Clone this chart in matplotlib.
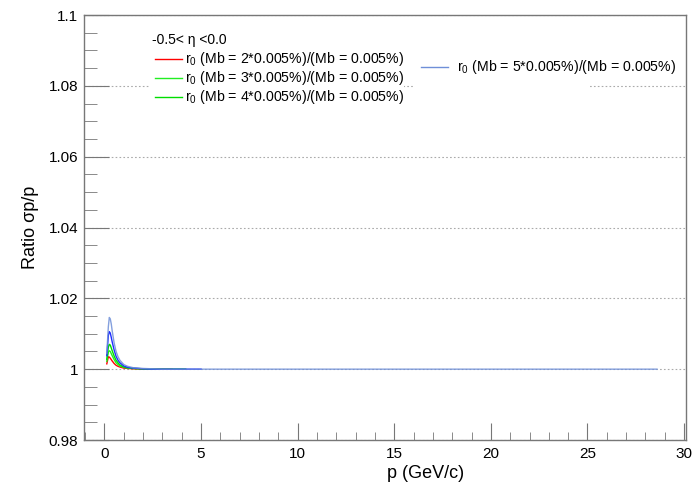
import matplotlib
matplotlib.use("Agg")
import matplotlib.pyplot as plt
from matplotlib.ticker import MultipleLocator
from matplotlib.lines import Line2D
from matplotlib.patches import Rectangle

plt.rcParams['font.family'] = ['Liberation Sans', 'DejaVu Sans']
plt.rcParams['mathtext.fontset'] = 'custom'
plt.rcParams['mathtext.rm'] = 'Liberation Sans'
plt.rcParams['mathtext.it'] = 'Liberation Sans:italic'

# ---- data ----
p = [0.12, 0.2, 0.25, 0.3, 0.35, 0.4, 0.5, 0.6, 0.7, 0.8, 1.0, 1.2, 1.5, 2.0, 2.5, 3.0, 4.0, 5.0]
p_red = p[:16] + [3.5]
r_red = [1.0015, 1.0035, 1.0034, 1.0031, 1.0027, 1.0023, 1.0016, 1.0011, 1.0008, 1.0006, 1.0003, 1.0002, 1.0001, 1.0, 1.0, 1.0, 1.0]
p_green = p[:17] + [4.2]
r_green3 = [1.0022, 1.0048, 1.0052, 1.0050, 1.0044, 1.0038, 1.0027, 1.0018, 1.0013, 1.0009, 1.0005, 1.0003, 1.0002, 1.0001, 1.0, 1.0, 1.0, 1.0]
r_green4 = [1.0028, 1.0062, 1.0070, 1.0068, 1.0060, 1.0052, 1.0037, 1.0025, 1.0018, 1.0012, 1.0006, 1.0004, 1.0002, 1.0001, 1.0, 1.0, 1.0, 1.0]
r_blue = [1.0038, 1.0095, 1.0106, 1.0102, 1.0090, 1.0077, 1.0054, 1.0036, 1.0025, 1.0018, 1.0009, 1.0005, 1.0003, 1.0001, 1.0, 1.0, 1.0, 1.0]
p_light = p + [28.6]
r_light = [1.0045, 1.0120, 1.0146, 1.0142, 1.0128, 1.0108, 1.0074, 1.0050, 1.0035, 1.0025, 1.0013, 1.0008, 1.0004, 1.0002, 1.0001, 1.0, 1.0, 1.0, 1.0]

legend_title = "-0.5< \u03b7 <0.0"
labels = [r"r$_0$ (Mb = 2*0.005%)/(Mb = 0.005%)",
          r"r$_0$ (Mb = 3*0.005%)/(Mb = 0.005%)",
          r"r$_0$ (Mb = 4*0.005%)/(Mb = 0.005%)",
          r"r$_0$ (Mb = 5*0.005%)/(Mb = 0.005%)"]

W, H = 693, 484
fig = plt.figure(figsize=(W/100, H/100), dpi=100)
L, R, T, B = 84, 686, 15, 440
ax = fig.add_axes([L/W, 1-B/H, (R-L)/W, (B-T)/H])

ax.plot(p_red, r_red, color='#ff0000', lw=1.0, zorder=3)
ax.plot(p_green, r_green3, color='#22ee22', lw=1.0, zorder=4)
ax.plot(p_green, r_green4, color='#00dd00', lw=1.0, zorder=4)
ax.plot(p, r_blue, color='#1f2fff', lw=1.0, zorder=5)
ax.plot(p_light, r_light, color='#6f8fd8', lw=1.0, alpha=0.85, zorder=6)

ax.set_xlim(-1.06, 30.1)
ax.set_ylim(0.98, 1.1)

ax.xaxis.set_major_locator(MultipleLocator(5))
ax.xaxis.set_minor_locator(MultipleLocator(1))
ax.yaxis.set_major_locator(MultipleLocator(0.02))
ax.yaxis.set_minor_locator(MultipleLocator(0.005))
ax.yaxis.set_major_formatter(matplotlib.ticker.FuncFormatter(lambda v, _: ('%g' % round(v, 4))))

axc = '#777777'
for s in ax.spines.values():
    s.set_color(axc)
    s.set_linewidth(1.0)
ax.tick_params(axis='x', which='major', direction='in', length=12, color=axc, labelsize=11, pad=5, top=False)
ax.tick_params(axis='x', which='minor', direction='in', length=6, color=axc, top=False)
ax.tick_params(axis='y', which='major', direction='in', length=18, color=axc, labelsize=11, pad=4, right=False)
ax.tick_params(axis='y', which='minor', direction='in', length=9, color=axc, right=False)
ax.grid(axis='y', which='major', linestyle=(0, (1.5, 2)), color='#aaaaaa', lw=0.8, zorder=1)

ax.set_xlabel("p (GeV/c)", fontsize=13)
ax.xaxis.set_label_coords(0.568, -0.058)
ax.set_ylabel("Ratio \u03c3p/p", fontsize=13)
ax.yaxis.set_label_coords(-0.075, 0.5)

def fx(px):
    return (px - L) / (R - L)
def fy(py):
    return (B - py) / (B - T)

# legend 1
ax.add_patch(Rectangle((fx(149), fy(105)), fx(404)-fx(149), fy(30)-fy(105), transform=ax.transAxes,
                       facecolor='white', edgecolor='none', zorder=7))
ax.text(fx(152), fy(40), legend_title, transform=ax.transAxes, fontsize=10, va='center', ha='left', zorder=8)
cols = ['#ff0000', '#22ee22', '#00dd00']
ys = [59, 78, 97]
for c, yy, lab in zip(cols, ys, labels[:3]):
    ax.add_line(Line2D([fx(155), fx(182)], [fy(yy), fy(yy)], transform=ax.transAxes, color=c, lw=1.0, zorder=8))
    ax.text(fx(185), fy(yy), lab, transform=ax.transAxes, fontsize=10.2, va='center', ha='left', zorder=8)

# legend 2
ax.add_patch(Rectangle((fx(413), fy(88)), fx(590)-fx(413), fy(52)-fy(88), transform=ax.transAxes,
                       facecolor='white', edgecolor='none', zorder=7))
ax.add_line(Line2D([fx(421), fx(448)], [fy(67), fy(67)], transform=ax.transAxes, color='#6f8fd8', lw=1.0, zorder=8))
ax.text(fx(457), fy(67), labels[3], transform=ax.transAxes, fontsize=10.2, va='center', ha='left', zorder=8)

fig.savefig("out.png", dpi=100)
